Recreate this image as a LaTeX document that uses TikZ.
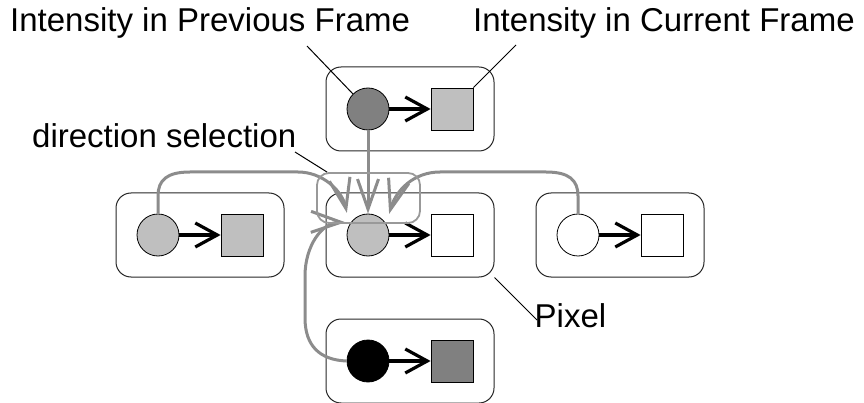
\documentclass[tikz,border=0pt]{standalone}
\usepackage{fontspec}
\setmainfont{Liberation Sans}
\usetikzlibrary{arrows.meta}
\begin{document}
\begin{tikzpicture}[x=1pt,y=-1pt,
  pixbox/.style={draw=black!85, line width=1pt, rounded corners=15pt,
    minimum width=168pt, minimum height=84pt, inner sep=0pt},
  prevc/.style={circle, draw=black, line width=0.8pt, minimum size=42pt, inner sep=0pt},
  cursq/.style={rectangle, draw=black, line width=0.8pt, minimum size=42pt, inner sep=0pt},
  update/.style={line width=3.2pt, -{Straight Barb[length=22pt,width=24pt,line width=3.2pt]}},
  pick/.style={draw=black!45, line width=3pt, -{Straight Barb[length=30pt,width=21pt,line width=3pt]}},
  selbox/.style={draw=black!40, line width=1.8pt, rounded corners=12pt,
    minimum width=103pt, minimum height=50pt, inner sep=0pt},
  lbl/.style={font=\fontsize{33}{38}\selectfont, inner sep=0pt, anchor=base west},
  lead/.style={line width=1pt}]
\useasboundingbox (0,0) rectangle (864,403);

% pixel cells
\node[pixbox] (bT) at (410,109) {};
\node[pixbox] (bL) at (200,235) {};
\node[pixbox] (bC) at (410,235) {};
\node[pixbox] (bR) at (620,235) {};
\node[pixbox] (bB) at (410,361) {};

% previous-frame intensities (circles) and current-frame intensities (squares)
\node[prevc, fill=black!50] (cT) at (368,109) {};
\node[cursq, fill=black!25] (sT) at (452,109) {};
\node[prevc, fill=black!25] (cL) at (158,235) {};
\node[cursq, fill=black!25] (sL) at (242,235) {};
\node[prevc, fill=black!25] (cC) at (368,235) {};
\node[cursq, fill=white] (sC) at (452,235) {};
\node[prevc, fill=white] (cR) at (578,235) {};
\node[cursq, fill=white] (sR) at (662,235) {};
\node[prevc, fill=black] (cB) at (368,361) {};
\node[cursq, fill=black!50] (sB) at (452,361) {};

\foreach \c/\s in {cT/sT, cL/sL, cC/sC, cR/sR, cB/sB}
  \draw[update] (\c) -- (\s);

% neighbour candidates flowing into the centre pixel
\draw[pick] (cT) -- (cC);
\draw[pick] (cL.north) -- (158,196) .. controls (158,180) and (167,172) .. (190,172)
  -- (298,172) .. controls (322,172) and (342,190) .. ([shift={(-6,-7)}]cC.north west);
\draw[pick] (cR.north) -- (578,196) .. controls (578,180) and (569,172) .. (546,172)
  -- (440,172) .. controls (414,172) and (396,190) .. ([shift={(6,-6)}]cC.north east);
\draw[pick] (cB.west) .. controls (320,360) and (305,346) .. (305,318)
  -- (305,276) .. controls (305,246) and (322,222) .. ([shift={(-4,-2)}]cC.150);

% direction selection window
\node[selbox] (dsel) at (368.5,198) {};

% labels and leader lines
\node[lbl] (tPrev) at (10,32) {Intensity in Previous Frame};
\node[lbl] (tCur) at (473,32) {Intensity in Current Frame};
\node[lbl] (tDir) at (32,148) {direction selection};
\node[lbl] (tPix) at (534.5,327) {Pixel};

\coordinate (lPrev) at (307,46);
\coordinate (lCur) at (516,45);
\coordinate (lDir) at (295,152);
\coordinate (lPix) at (537,320);
\draw[lead] (lPrev) -- (cT.north west);
\draw[lead] (lCur) -- (sT.north east);
\draw[lead] (lDir) -- ([xshift=11pt]dsel.north west);
\draw[lead] (bC.south east) -- (lPix);
\end{tikzpicture}
\end{document}
